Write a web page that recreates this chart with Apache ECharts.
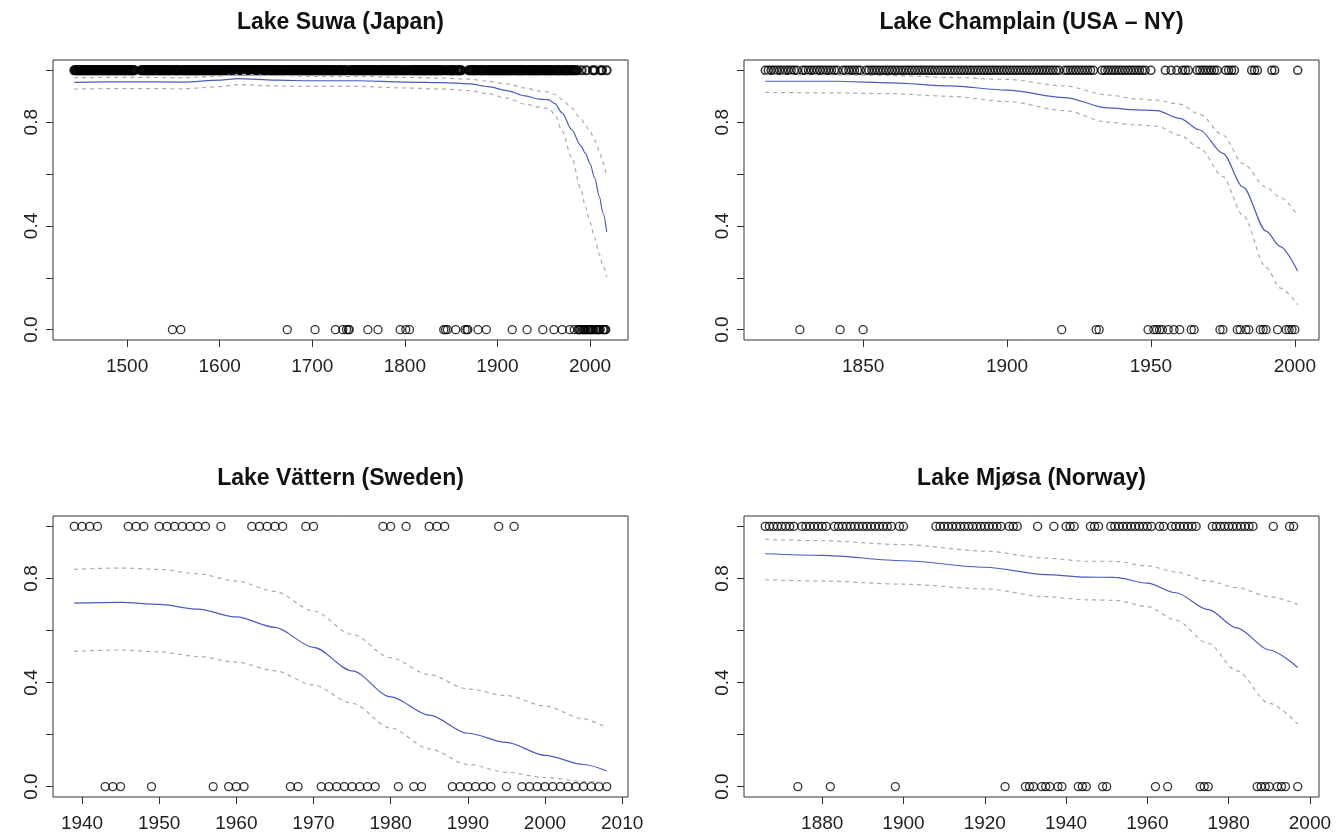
<!DOCTYPE html>
<html><head><meta charset="utf-8">
<script src="https://cdn.jsdelivr.net/npm/echarts@6/dist/echarts.min.js"></script>
<style>html,body{margin:0;padding:0;background:#fff}#c{width:1338px;height:838px}</style>
</head><body><div id="c"></div><script>
// ---------- Lake Suwa (Japan) ----------
const suwaTitle = 'Lake Suwa (Japan)';
const suwaOneRuns = [[1443,1508],[1515,1548],[1550,1557],[1559,1672],[1674,1702],[1704,1724],[1726,1732],[1734,1736],[1738,1738],[1741,1759],[1761,1770],[1772,1794],[1796,1800],[1802,1804],[1806,1841],[1843,1843],[1845,1845],[1847,1854],[1856,1861],[1869,1878],[1880,1887],[1889,1915],[1917,1931],[1933,1948],[1950,1960],[1962,1969],[1971,1977],[1979,1982],[1984,1986],[1991,1991],[1996,1996],[2003,2003],[2005,2005],[2012,2013],[2018,2018]];
const suwaZeroYears = [1549,1558,1673,1703,1725,1733,1737,1739,1740,1760,1771,1795,1801,1805,1842,1844,1846,1855,1865,1867,1868,1879,1888,1916,1932,1949,1961,1970,1978,1983,1987,1988,1989,1990,1992,1993,1994,1995,1997,1998,1999,2000,2001,2002,2004,2006,2007,2008,2009,2010,2011,2014,2015,2016,2017];
const suwaCurveYears = [1443,1500,1560,1600,1620,1660,1700,1750,1800,1840,1870,1890,1910,1930,1945,1955,1962,1970,1980,1990,1995,2000,2005,2010,2014,2018];
const suwaFit   = [0.954,0.956,0.955,0.962,0.968,0.962,0.960,0.960,0.955,0.953,0.948,0.937,0.922,0.902,0.889,0.887,0.872,0.835,0.772,0.710,0.680,0.640,0.585,0.514,0.450,0.377];
const suwaUpper = [0.972,0.973,0.972,0.978,0.985,0.980,0.977,0.977,0.973,0.970,0.966,0.958,0.948,0.932,0.920,0.917,0.907,0.888,0.855,0.815,0.790,0.765,0.730,0.690,0.645,0.590];
const suwaLower = [0.928,0.930,0.929,0.937,0.945,0.940,0.938,0.938,0.932,0.928,0.922,0.910,0.893,0.870,0.858,0.853,0.830,0.765,0.665,0.545,0.475,0.415,0.355,0.290,0.245,0.205];
const suwaXTicks = [1500,1600,1700,1800,1900,2000];

// ---------- Lake Champlain (USA - NY) ----------
const champTitle = 'Lake Champlain (USA \u2013 NY)';
const champOneRuns = [[1816,1827],[1829,1841],[1843,1849],[1851,1918],[1920,1930],[1933,1948],[1950,1950],[1955,1955],[1957,1957],[1959,1959],[1961,1963],[1966,1973],[1976,1979],[1985,1987],[1992,1993],[2001,2001]];
const champZeroYears = [1828,1842,1850,1919,1931,1932,1949,1951,1952,1953,1954,1956,1958,1960,1964,1965,1974,1975,1980,1981,1983,1984,1988,1989,1990,1994,1997,1998,1999,2000];
const champCurveYears = [1816,1840,1860,1880,1900,1920,1935,1945,1952,1960,1967,1975,1982,1990,1995,2001];
const champFit   = [0.958,0.958,0.952,0.940,0.924,0.895,0.855,0.848,0.845,0.815,0.770,0.680,0.550,0.380,0.320,0.225];
const champUpper = [0.985,0.983,0.980,0.973,0.965,0.940,0.905,0.890,0.885,0.870,0.830,0.750,0.640,0.550,0.510,0.440];
const champLower = [0.915,0.913,0.910,0.900,0.880,0.845,0.800,0.790,0.785,0.750,0.700,0.590,0.440,0.240,0.160,0.095];
const champXTicks = [1850,1900,1950,2000];

// ---------- Lake Vättern (Sweden) ----------
const vattTitle = 'Lake V\u00e4ttern (Sweden)';
const vattOneRuns = [[1939,1942],[1946,1948],[1950,1956],[1958,1958],[1962,1966],[1969,1970],[1979,1980],[1982,1982],[1985,1987],[1994,1994],[1996,1996]];
const vattZeroYears = [1943,1944,1945,1949,1957,1959,1960,1961,1967,1968,1971,1972,1973,1974,1975,1976,1977,1978,1981,1983,1984,1988,1989,1990,1991,1992,1993,1995,1997,1998,1999,2000,2001,2002,2003,2004,2005,2006,2007,2008];
const vattCurveYears = [1939,1945,1950,1955,1960,1965,1970,1975,1980,1985,1990,1995,2000,2005,2008];
const vattFit   = [0.705,0.708,0.700,0.682,0.652,0.612,0.535,0.445,0.345,0.275,0.205,0.170,0.120,0.085,0.060];
const vattUpper = [0.835,0.840,0.835,0.818,0.790,0.750,0.675,0.585,0.495,0.430,0.375,0.350,0.310,0.260,0.225];
const vattLower = [0.520,0.525,0.518,0.500,0.478,0.445,0.390,0.320,0.225,0.145,0.085,0.055,0.035,0.020,0.015];
const vattXTicks = [1940,1950,1960,1970,1980,1990,2000,2010];

// ---------- Lake Mjøsa (Norway) ----------
const mjosaTitle = 'Lake Mj\u00f8sa (Norway)';
const mjosaOneRuns = [[1866,1873],[1875,1881],[1883,1897],[1899,1900],[1908,1924],[1926,1928],[1933,1933],[1937,1937],[1940,1942],[1946,1948],[1951,1961],[1963,1964],[1966,1972],[1976,1986],[1991,1991],[1995,1996]];
const mjosaZeroYears = [1874,1882,1898,1925,1930,1931,1932,1934,1935,1936,1938,1939,1943,1944,1945,1949,1950,1962,1965,1973,1974,1975,1987,1988,1989,1990,1992,1993,1994,1997];
const mjosaCurveYears = [1866,1880,1900,1920,1935,1945,1952,1960,1967,1975,1982,1990,1997];
const mjosaFit   = [0.895,0.889,0.868,0.843,0.815,0.805,0.804,0.782,0.745,0.680,0.610,0.525,0.458];
const mjosaUpper = [0.950,0.945,0.930,0.905,0.878,0.866,0.866,0.848,0.825,0.790,0.765,0.730,0.700];
const mjosaLower = [0.795,0.790,0.778,0.760,0.730,0.718,0.716,0.692,0.640,0.550,0.445,0.320,0.240];
const mjosaXTicks = [1880,1900,1920,1940,1960,1980,2000];

// shared y axis
const yTickValues = [0,0.2,0.4,0.6,0.8,1.0];
const yLabelValues = [0,0.4,0.8];

const FONT = "'Liberation Sans', Arial, Helvetica, sans-serif";

function expandRuns(runs){const out=[];runs.forEach(r=>{for(let y=r[0];y<=r[1];y++)out.push(y);});return out;}
function pairs(xs, ys){return xs.map((x,i)=>[x, ys[i]]);}

const panels = [
  {title:suwaTitle, grid:{left:53,top:60,width:575,height:280}, ones:expandRuns(suwaOneRuns), zeros:suwaZeroYears, cy:suwaCurveYears, fit:suwaFit, up:suwaUpper, lo:suwaLower, xt:suwaXTicks, tx:340.5, ty:11, bw:2},
  {title:champTitle, grid:{left:744,top:60,width:575,height:280}, ones:expandRuns(champOneRuns), zeros:champZeroYears, cy:champCurveYears, fit:champFit, up:champUpper, lo:champLower, xt:champXTicks, tx:1031.5, ty:11, bw:1.5},
  {title:vattTitle, grid:{left:53,top:516,width:575,height:281}, ones:expandRuns(vattOneRuns), zeros:vattZeroYears, cy:vattCurveYears, fit:vattFit, up:vattUpper, lo:vattLower, xt:vattXTicks, tx:340.5, ty:467, bw:1.3},
  {title:mjosaTitle, grid:{left:744,top:516,width:575,height:281}, ones:expandRuns(mjosaOneRuns), zeros:mjosaZeroYears, cy:mjosaCurveYears, fit:mjosaFit, up:mjosaUpper, lo:mjosaLower, xt:mjosaXTicks, tx:1031.5, ty:467, bw:1.4}
];

const option = {animation:false, backgroundColor:'#fff', title:[], grid:[], xAxis:[], yAxis:[], series:[]};
panels.forEach((p,i)=>{
  const all = p.ones.concat(p.zeros);
  const mn = Math.min.apply(null, all), mx = Math.max.apply(null, all);
  const pad = 0.04*(mx-mn);
  option.title.push({text:p.title, left:p.tx, top:p.ty, textAlign:'center', padding:0,
    textStyle:{fontFamily:FONT, fontWeight:'bold', fontSize:23, color:'#111'}});
  option.grid.push(Object.assign({show:true, borderColor:'#333', borderWidth:1, backgroundColor:'transparent'}, p.grid));
  option.xAxis.push({type:'value', gridIndex:i, min:mn-pad, max:mx+pad,
    axisLine:{show:false, onZero:false}, splitLine:{show:false},
    axisTick:{show:true, length:7, customValues:p.xt, lineStyle:{color:'#333'}},
    axisLabel:{show:true, customValues:p.xt, margin:17, fontFamily:FONT, fontSize:19, color:'#222',
      formatter:v=>String(Math.round(v))}});
  option.yAxis.push({type:'value', gridIndex:i, min:-0.04, max:1.04,
    axisLine:{show:false, onZero:false}, splitLine:{show:false},
    axisTick:{show:true, length:7, customValues:yTickValues, lineStyle:{color:'#333'}},
    axisLabel:{show:true, customValues:yLabelValues, rotate:90, margin:12, fontFamily:FONT, fontSize:19, color:'#222',
      formatter:v=>Number(v).toFixed(1)}});
  const lineBase = {type:'line', xAxisIndex:i, yAxisIndex:i, showSymbol:false, symbol:'none', smooth:0.3, smoothMonotone:'x', silent:true};
  option.series.push(Object.assign({}, lineBase, {data:pairs(p.cy,p.up), lineStyle:{color:'#aaaaaa', width:1.2, type:[4,4]}}));
  option.series.push(Object.assign({}, lineBase, {data:pairs(p.cy,p.lo), lineStyle:{color:'#aaaaaa', width:1.2, type:[4,4]}}));
  option.series.push(Object.assign({}, lineBase, {data:pairs(p.cy,p.fit), lineStyle:{color:'#4a5cbf', width:1.2}}));
  option.series.push({type:'scatter', xAxisIndex:i, yAxisIndex:i, silent:true, symbol:'circle', symbolSize:8,
    data:p.ones.map(y=>[y,1]),
    itemStyle:{color:'rgba(0,0,0,0)', borderColor:'#000', borderWidth:p.bw}});
  option.series.push({type:'scatter', xAxisIndex:i, yAxisIndex:i, silent:true, symbol:'circle', symbolSize:8,
    data:p.zeros.map(y=>[y,0]),
    itemStyle:{color:'rgba(0,0,0,0)', borderColor:'#000', borderWidth:1.3}});
});
const chart = echarts.init(document.getElementById('c'), null, {renderer:'canvas'});
chart.setOption(option);
</script></body></html>
